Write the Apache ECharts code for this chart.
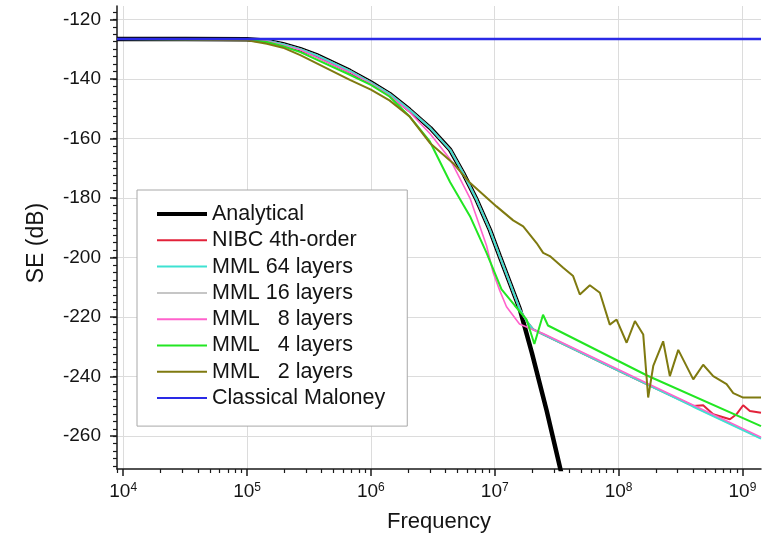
<!DOCTYPE html>
<html>
<head>
<meta charset="utf-8">
<script src="https://cdn.jsdelivr.net/npm/echarts@6/dist/echarts.min.js"></script>
<style>
  html, body { margin: 0; padding: 0; background: #ffffff; }
  #chart { width: 769px; height: 549px; }
</style>
</head>
<body>
<div id="chart"></div>
<script>
// Shielding effectiveness vs frequency.
// Every point is [log10(frequency / Hz), SE in dB].

const seriesNames = [
  'Analytical',
  'NIBC 4th-order',
  'MML 64 layers',
  'MML 16 layers',
  'MML   8 layers',
  'MML   4 layers',
  'MML   2 layers',
  'Classical Maloney'
];

// shared roll-off of the exact solution and the fine discretisations
const commonRollOff = [
  [3.95, -126.6], [4.5, -126.6], [5.0, -126.7], [5.16, -127.2], [5.29, -128.3],
  [5.43, -130.0], [5.56, -132.0], [5.83, -137.3], [6.0, -141.2], [6.15, -145.0],
  [6.31, -150.3], [6.48, -156.5], [6.64, -163.8], [6.745, -171.6], [6.853, -180.5],
  [6.96, -190.6], [7.04, -199.5], [7.122, -208.5], [7.203, -217.4]
];

const analyticalTail = [[7.30, -232.0], [7.42, -251.5], [7.53, -271.0], [7.55, -274.5]];

const mml64Tail = [
  [7.26, -221.5], [7.31, -224.1], [7.39, -225.8], [7.85, -235.0],
  [8.23, -242.6], [8.60, -250.0], [9.15, -260.8]
];

const mml16Tail = [
  [7.26, -221.4], [7.31, -224.0], [7.39, -225.7], [7.85, -234.9],
  [8.23, -242.5], [8.60, -249.9], [9.15, -260.7]
];

const nibcTail = [
  [7.26, -221.5], [7.31, -224.1], [7.39, -225.8], [7.85, -235.0], [8.23, -242.6],
  [8.603, -249.8], [8.683, -249.6], [8.764, -252.6], [8.899, -254.3], [8.953, -252.6],
  [9.006, -249.6], [9.06, -251.5], [9.15, -252.1]
];

const mml8 = [
  [3.95, -126.6], [5.0, -126.7], [5.16, -127.3], [5.43, -130.3], [5.83, -137.8],
  [6.0, -141.6], [6.15, -145.6], [6.31, -151.0], [6.48, -158.5], [6.64, -167.0],
  [6.80, -180.0], [6.934, -196.0], [6.987, -205.0], [7.04, -211.0], [7.095, -216.5],
  [7.20, -222.3], [7.31, -224.2], [7.39, -225.5], [8.23, -242.2], [9.15, -260.3]
];

const mml4 = [
  [3.95, -126.6], [5.0, -126.8], [5.16, -127.6], [5.29, -129.0], [5.43, -131.0],
  [5.83, -138.6], [6.0, -142.0], [6.15, -145.9], [6.31, -152.5], [6.476, -161.0],
  [6.64, -174.7], [6.80, -186.1], [6.934, -198.4], [7.055, -210.7], [7.16, -216.0],
  [7.257, -220.8], [7.32, -229.0], [7.39, -219.2], [7.43, -222.8], [8.23, -239.6],
  [9.15, -256.6]
];

const mml2 = [
  [3.95, -126.6], [5.0, -127.0], [5.16, -128.2], [5.29, -129.5], [5.43, -132.0],
  [5.83, -140.3], [6.0, -143.6], [6.15, -147.2], [6.31, -152.5], [6.476, -161.5],
  [6.664, -168.3], [6.80, -174.9], [7.014, -182.8], [7.149, -187.5], [7.23, -189.5],
  [7.338, -195.1], [7.391, -198.4], [7.445, -199.5], [7.553, -203.4], [7.633, -206.2],
  [7.687, -212.4], [7.768, -209.3], [7.849, -211.8], [7.929, -222.5], [7.984, -220.8],
  [8.065, -228.6], [8.132, -221.3], [8.199, -225.8], [8.239, -247.0], [8.28, -236.4],
  [8.36, -228.1], [8.414, -239.8], [8.482, -231.0], [8.603, -240.9], [8.683, -236.0],
  [8.764, -239.8], [8.872, -242.5], [8.926, -245.5], [9.006, -247.0], [9.15, -247.0]
];

const classicalMaloney = [[3.95, -126.6], [9.15, -126.6]];

// axis ticks
const decadeTicks = [4, 5, 6, 7, 8, 9];
const seTicks = [-260, -240, -220, -200, -180, -160, -140, -120];

const X_MIN = 3.95, X_MAX = 9.15;
const Y_MIN = -271, Y_MAX = -115.5;

const minorXTicks = [];
for (let d = 3; d <= 9; d++) {
  for (let k = 2; k <= 9; k++) {
    const v = d + Math.log10(k);
    if (v > X_MIN && v < X_MAX) minorXTicks.push(v);
  }
}
const minorYTicks = [];
for (let v = -270; v <= -117.5; v += 2.5) minorYTicks.push(v);

const FONT = '"Liberation Sans", Arial, Helvetica, sans-serif';
const TEXT = '#141414';
const AXIS = '#1a1a1a';

const colors = ['#000000', '#e2223a', '#3ee2d2', '#c6c6c6', '#ff62cc', '#22e622', '#7f7a10', '#2a2ae6'];
const widths = [4.5, 2, 2, 2, 1.6, 2, 2, 2.5];
const zs = [1, 2, 3, 1, 3, 3, 3, 3];

const seriesData = [
  commonRollOff.concat(analyticalTail),
  commonRollOff.concat(nibcTail),
  commonRollOff.concat(mml64Tail),
  commonRollOff.concat(mml16Tail),
  mml8,
  mml4,
  mml2,
  classicalMaloney
];

const chart = echarts.init(document.getElementById('chart'), null, { renderer: 'canvas' });

chart.setOption({
  animation: false,
  backgroundColor: '#ffffff',
  grid: { left: 117, right: 8, top: 6, bottom: 80, containLabel: false },
  legend: {
    orient: 'vertical',
    left: 137,
    top: 190,
    padding: [13, 22, 17, 18],
    itemWidth: 50,
    itemHeight: 14,
    itemGap: 4.3,
    backgroundColor: '#ffffff',
    borderColor: '#a8a8a8',
    borderWidth: 1,
    itemStyle: { opacity: 0 },
    textStyle: { fontFamily: FONT, fontSize: 21.5, color: TEXT, lineHeight: 20 },
    data: seriesNames.map(function (name, i) {
      return { name: name, lineStyle: { color: colors[i], width: i === 0 ? 4 : 2 } };
    })
  },
  xAxis: [
    {
      type: 'value',
      min: X_MIN,
      max: X_MAX,
      position: 'bottom',
      name: 'Frequency',
      nameLocation: 'middle',
      nameGap: 42,
      nameTextStyle: { fontFamily: FONT, fontSize: 22, color: TEXT },
      axisLine: { show: true, onZero: false, lineStyle: { color: AXIS, width: 1.5 } },
      axisTick: { show: true, inside: false, length: 7, customValues: decadeTicks, lineStyle: { color: AXIS, width: 1.5 } },
      axisLabel: {
        customValues: decadeTicks,
        margin: 13,
        formatter: function (v) { return '{b|10}{s|' + v + '}'; },
        rich: {
          b: { fontFamily: FONT, fontSize: 19, color: TEXT },
          s: { fontFamily: FONT, fontSize: 12, color: TEXT, verticalAlign: 'top' }
        }
      },
      splitLine: { show: true, lineStyle: { color: '#dcdcdc', width: 1 } }
    },
    {
      type: 'value',
      min: X_MIN,
      max: X_MAX,
      position: 'bottom',
      axisLine: { show: false, onZero: false },
      axisTick: { show: true, inside: false, length: 4, customValues: minorXTicks, lineStyle: { color: AXIS, width: 1.2 } },
      axisLabel: { show: false },
      splitLine: { show: false }
    }
  ],
  yAxis: [
    {
      type: 'value',
      min: Y_MIN,
      max: Y_MAX,
      position: 'left',
      name: 'SE (dB)',
      nameLocation: 'middle',
      nameGap: 69,
      nameRotate: 90,
      nameTextStyle: { fontFamily: FONT, fontSize: 23, color: TEXT, padding: [0, 11, 0, 0] },
      axisLine: { show: true, onZero: false, lineStyle: { color: AXIS, width: 1.5 } },
      axisTick: { show: true, inside: false, length: 7, customValues: seTicks, lineStyle: { color: AXIS, width: 1.5 } },
      axisLabel: { customValues: seTicks, margin: 16, fontFamily: FONT, fontSize: 19, color: TEXT },
      splitLine: { show: true, lineStyle: { color: '#dcdcdc', width: 1 } }
    },
    {
      type: 'value',
      min: Y_MIN,
      max: Y_MAX,
      position: 'left',
      axisLine: { show: false, onZero: false },
      axisTick: { show: true, inside: false, length: 4, customValues: minorYTicks, lineStyle: { color: AXIS, width: 1.2 } },
      axisLabel: { show: false },
      splitLine: { show: false }
    }
  ],
  series: seriesNames.map(function (name, i) {
    return {
      name: name,
      type: 'line',
      xAxisIndex: 0,
      yAxisIndex: 0,
      data: seriesData[i],
      symbol: 'none',
      showSymbol: false,
      clip: true,
      z: zs[i],
      color: colors[i],
      lineStyle: { color: colors[i], width: widths[i] },
      emphasis: { disabled: true }
    };
  })
});
</script>
</body>
</html>
